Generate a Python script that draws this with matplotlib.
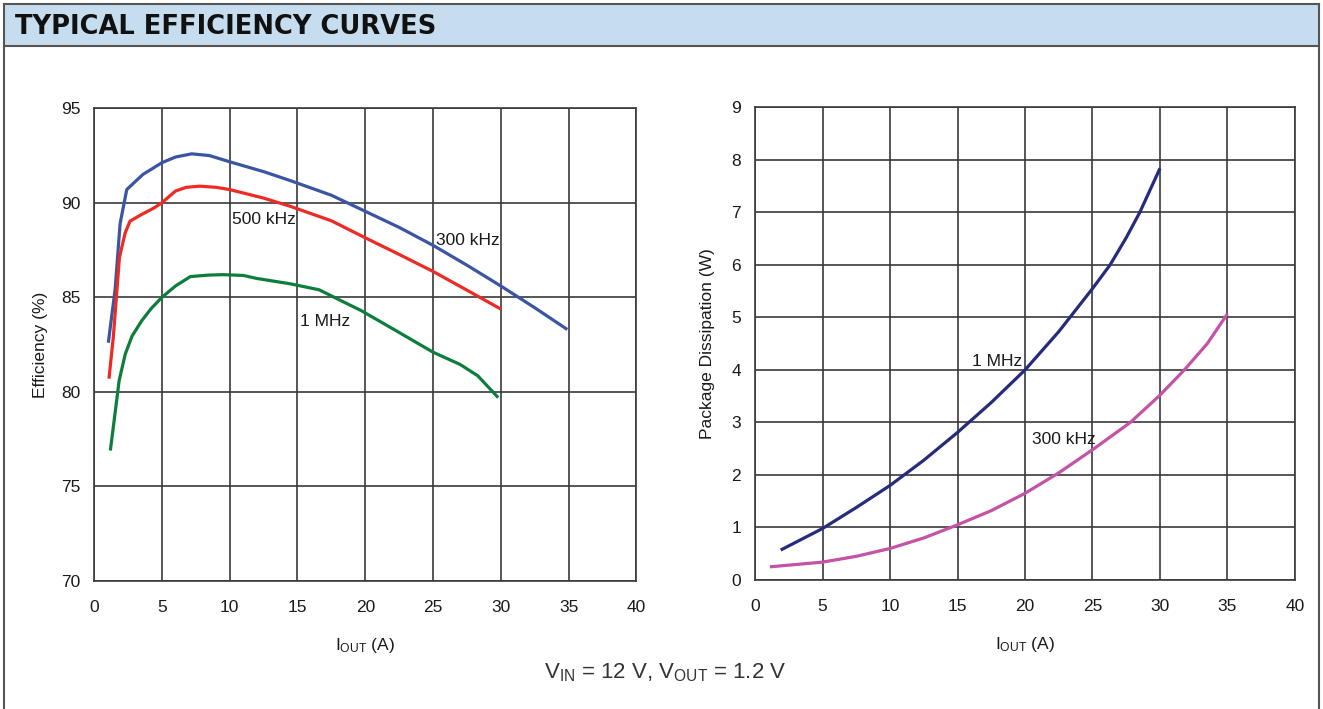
import matplotlib.pyplot as plt
from matplotlib.patches import Rectangle
from matplotlib.lines import Line2D

plt.rcParams['font.family'] = ['Liberation Sans', 'DejaVu Sans']
plt.rcParams['mathtext.fontset'] = 'custom'
plt.rcParams['mathtext.rm'] = 'Liberation Sans'
plt.rcParams['mathtext.it'] = 'Liberation Sans'

# efficiency curves (left)
x_300k = [1.05, 1.55, 1.92, 2.41, 3.6, 5, 6, 7.2, 8.5, 10, 12.5, 14.45, 17.5, 20, 22.5, 25, 27.5,
          30, 32.5, 34.9]
eff_300k = [82.6, 85.4, 88.9, 90.7, 91.5, 92.12, 92.42, 92.59, 92.5, 92.17, 91.65, 91.18, 90.4, 89.55,
            88.7, 87.75, 86.7, 85.6, 84.45, 83.3]

x_500k = [1.1, 1.42, 1.87, 2.29, 2.65, 3.5, 4.4, 5, 6, 6.8, 7.8, 9, 10, 12.5, 14.45, 17.5, 20, 22.5,
          25, 27.5, 30]
eff_500k = [80.7, 82.9, 87.1, 88.4, 89.03, 89.38, 89.72, 90.0, 90.62, 90.82, 90.88, 90.82, 90.7,
            90.25, 89.82, 89.05, 88.15, 87.27, 86.37, 85.38, 84.38]

x_1m = [1.2, 1.5, 1.85, 2.3, 2.8, 3.5, 4.2, 5, 6, 7.1, 8.5, 9.5, 11, 12, 14.45, 16.6, 18, 19.7, 22,
        25, 27, 28.3, 29.8]
eff_1m = [76.9, 78.6, 80.6, 82.0, 82.95, 83.75, 84.4, 85.0, 85.6, 86.1, 86.18, 86.2, 86.16, 86.0,
          85.72, 85.4, 84.9, 84.3, 83.35, 82.1, 81.45, 80.85, 79.7]

# package dissipation (right)
xd_1m = [1.9, 5, 7.5, 10, 12.5, 15, 17.5, 20, 22.5, 25, 26.3, 27.5, 28.5, 30.0]
pd_1m = [0.57, 0.98, 1.38, 1.80, 2.28, 2.81, 3.38, 4.0, 4.73, 5.55, 6.0, 6.52, 7.0, 7.84]

xd_300k = [1.1, 5, 7.5, 10, 12.5, 15, 17.5, 20, 22.5, 25, 27.8, 30, 31.8, 33.5, 35]
pd_300k = [0.25, 0.34, 0.45, 0.60, 0.80, 1.05, 1.32, 1.65, 2.04, 2.48, 3.0, 3.52, 4.0, 4.5, 5.07]

x_ticks = [0, 5, 10, 15, 20, 25, 30, 35, 40]
eff_ticks = [70, 75, 80, 85, 90, 95]
pd_ticks = [0, 1, 2, 3, 4, 5, 6, 7, 8, 9]

grid_c = '#3a3a3a'
txt_c = '#1a1a1a'
fs = 12.5

fig = plt.figure(figsize=(13.23, 7.09), dpi=100)

# header band and frame
fig.patches.append(Rectangle((0.003, 0.935), 0.994, 0.06, transform=fig.transFigure,
                             facecolor='#c6dcef', edgecolor='none', zorder=0))
for xs, ys in [([0.003, 0.003], [0.0, 0.995]), ([0.997, 0.997], [0.0, 0.995]),
               ([0.003, 0.997], [0.995, 0.995]), ([0.003, 0.997], [0.935, 0.935])]:
    fig.lines.append(Line2D(xs, ys, transform=fig.transFigure, color='#555555', lw=1.5))
fig.text(0.0113, 0.9625, 'TYPICAL EFFICIENCY CURVES', fontsize=18.5, fontweight='bold',
         family='DejaVu Sans', color='#111111', va='center', ha='left')

ax1 = fig.add_axes([0.0711, 0.1805, 0.410, 0.6668])
ax2 = fig.add_axes([0.5707, 0.1820, 0.4081, 0.6664])

for ax in (ax1, ax2):
    ax.set_xlim(0, 40)
    ax.set_xticks(x_ticks)
    ax.grid(True, color=grid_c, lw=1.2)
    ax.set_axisbelow(True)
    for sp in ax.spines.values():
        sp.set_color(grid_c)
        sp.set_linewidth(1.2)
    ax.tick_params(length=0, labelsize=fs, colors=txt_c)
    ax.tick_params(axis='x', pad=14)
    ax.tick_params(axis='y', pad=10)
    ax.set_xlabel(r'I$_{\mathrm{OUT}}$ (A)', fontsize=fs, color=txt_c, labelpad=15)

ax1.plot(x_300k, eff_300k, color='#3b55a5', lw=2.3, solid_capstyle='butt')
ax1.plot(x_500k, eff_500k, color='#ee2a24', lw=2.3, solid_capstyle='butt')
ax1.plot(x_1m, eff_1m, color='#0c7e3c', lw=2.3, solid_capstyle='butt')
ax1.set_ylim(70, 95)
ax1.set_yticks(eff_ticks)
ax1.set_ylabel('Efficiency (%)', fontsize=fs, color=txt_c, labelpad=9)
ax1.text(10.2, 89.1, '500 kHz', fontsize=fs, color=txt_c, va='center', ha='left')
ax1.text(25.2, 88.0, '300 kHz', fontsize=fs, color=txt_c, va='center', ha='left')
ax1.text(15.2, 83.7, '1 MHz', fontsize=fs, color=txt_c, va='center', ha='left')

ax2.plot(xd_1m, pd_1m, color='#262b7b', lw=2.3, solid_capstyle='butt')
ax2.plot(xd_300k, pd_300k, color='#c453a6', lw=2.3, solid_capstyle='butt')
ax2.set_ylim(0, 9)
ax2.set_yticks(pd_ticks)
ax2.set_ylabel('Package Dissipation (W)', fontsize=fs, color=txt_c, labelpad=12)
ax2.text(16.1, 4.17, '1 MHz', fontsize=fs, color=txt_c, va='center', ha='left')
ax2.text(20.5, 2.67, '300 kHz', fontsize=fs, color=txt_c, va='center', ha='left')

fig.text(0.503, 0.051, r'V$_{\mathrm{IN}}$ = 12 V, V$_{\mathrm{OUT}}$ = 1.2 V', fontsize=16,
         color='#333333', ha='center', va='center')

fig.savefig('out.png', dpi=100)
